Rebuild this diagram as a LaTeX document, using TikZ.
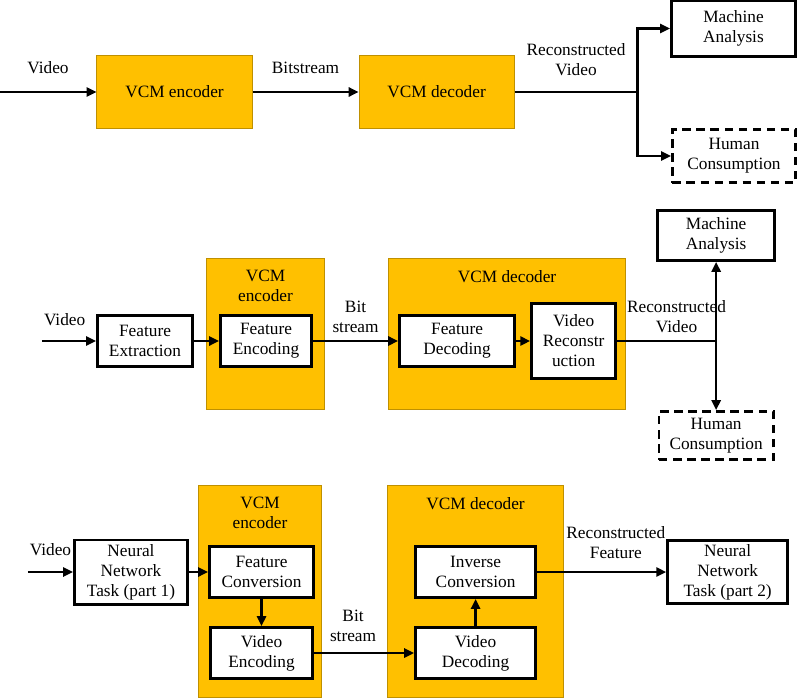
\documentclass[tikz,border=0pt]{standalone}
\usepackage{fontspec}
\setmainfont{Liberation Serif}
\usepackage{xcolor}
\usepackage{tikz}
\usetikzlibrary{positioning, arrows.meta, calc}

\definecolor{vcmgold}{HTML}{FFC000}
\definecolor{vcmedge}{HTML}{BF9000}

\begin{document}
\begin{tikzpicture}[
        x=0.025cm, y=-0.025cm,
        font=\fontsize{12.3}{14.2}\selectfont,
        vcmbox/.style={draw=vcmedge, fill=vcmgold, line width=0.7pt, rectangle, align=center, inner sep=0pt},
        block/.style={draw, rectangle, line width=2pt, fill=white, align=center, inner sep=1pt, bh=1.35cm},
        bw/.style={minimum width=#1-2pt},
        bh/.style={minimum height=#1-2pt},
        humanbox/.style={block, dash pattern=on 6pt off 4pt},
        bgtitle/.style={inner sep=0pt, align=center},
        lbl/.style={inner sep=1pt, align=center},
        arrow/.style={-{Triangle[length=7pt, width=6.5pt]}, line width=1.6pt},
        plain/.style={line width=1.6pt}
      ]
      \useasboundingbox (0,0) rectangle (800,698);

      % first row
      \node[vcmbox, minimum width=3.875cm, minimum height=1.825cm] (enc1) at (174.5,92) {VCM encoder};
      \node[vcmbox, minimum width=3.875cm, minimum height=1.825cm, right=2.65cm of enc1] (dec1) {VCM decoder};
      \coordinate[left=2.425cm of enc1] (in1);
      \coordinate[right=3.075cm of dec1] (j1);
      \node[block, bw=3.175cm, bh=1.45cm] (ma1) at (733.5,28.5) {Machine\\Analysis};
      \node[humanbox, bw=3.15cm, bh=1.4cm] (hc1) at (734,156) {Human\\Consumption};

      \draw[arrow] (in1) -- node[lbl, above=11pt] (lv1) {Video} (enc1);
      \draw[arrow] (enc1) -- node[lbl, above=11pt] (lb1) {Bitstream} (dec1);
      \draw[plain] (dec1) -- node[lbl, above=9.5pt] (lr1) {Reconstructed\\Video} (j1);
      \draw[arrow] (j1) |- (ma1);
      \draw[arrow] (j1) |- (hc1);

      % second row
      \node[vcmbox, minimum width=2.925cm, minimum height=3.75cm] (enc2bg) at (265.5,334) {};
      \node[bgtitle, below=8pt of enc2bg.north] (enc2t) {VCM\\encoder};
      \node[vcmbox, minimum width=5.9cm, minimum height=3.75cm] (dec2bg) at (507,334) {};
      \node[bgtitle, below=8.5pt of dec2bg.north] (dec2t) {VCM decoder};

      \node[block, bw=2.45cm] (fext) at (145,341) {Feature\\Extraction};
      \node[block, bw=2.35cm, right=0.625cm of fext] (fenc) {Feature\\Encoding};
      \node[block, bw=2.95cm, right=2.125cm of fenc] (fdec) {Feature\\Decoding};
      \node[block, bw=2.175cm, bh=1.95cm, right=0.35cm of fdec] (vrec) {Video\\Reconstr\\uction};
      \coordinate[left=1.35cm of fext] (in2);
      \coordinate[right=2.475cm of vrec] (j2);
      \node[block, bw=3cm, bh=1.325cm, above=1.975cm of j2] (ma2) {Machine\\Analysis};
      \node[humanbox, bw=2.925cm, bh=1.275cm, below=1.725cm of j2] (hc2) {Human\\Consumption};

      \draw[arrow] (in2) -- node[lbl, above=9pt, pos=0.42] (lv2) {Video} (fext);
      \draw[arrow] (fext) -- (fenc);
      \draw[arrow] (fenc) -- node[lbl, above=4pt] (lb2) {Bit\\stream} (fdec);
      \draw[arrow] (fdec) -- (vrec);
      \draw[plain] (vrec) -- node[lbl, above=4pt, pos=0.6] (lr2) {Reconstructed\\Video} (j2);
      \draw[arrow] (j2) -- (ma2);
      \draw[arrow] (j2) -- (hc2);

      % third row
      \node[vcmbox, minimum width=3.05cm, minimum height=5.275cm] (enc3bg) at (260,591.5) {};
      \node[bgtitle, below=8pt of enc3bg.north] (enc3t) {VCM\\encoder};
      \node[vcmbox, minimum width=4.375cm, minimum height=5.275cm] (dec3bg) at (475.5,591.5) {};
      \node[bgtitle, below=8pt of dec3bg.north] (dec3t) {VCM decoder};

      \node[block, bw=2.9cm, bh=1.675cm] (nn1) at (131,572) {Neural\\Network\\Task (part 1)};
      \node[block, bw=2.675cm, right=0.475cm of nn1] (fconv) {Feature\\Conversion};
      \node[block, bw=2.625cm, below=0.675cm of fconv] (venc) {Video\\Encoding};
      \node[block, bw=3.075cm, right=2.5cm of venc] (vdec) {Video\\Decoding};
      \node[block, bw=3.075cm, above=0.675cm of vdec] (iconv) {Inverse\\Conversion};
      \node[block, bw=3.075cm, bh=1.65cm, right=3.225cm of iconv] (nn2) {Neural\\Network\\Task (part 2)};
      \coordinate[left=1.125cm of nn1] (in3);

      \draw[arrow] (in3) -- node[lbl, above=10pt] (lv3) {Video} (nn1);
      \draw[arrow] (nn1) -- (fconv);
      \draw[arrow] (fconv) -- (venc);
      \draw[arrow] (venc) -- node[lbl, above=6pt, pos=0.39] (lb3) {Bit\\stream} (vdec);
      \draw[arrow] (vdec) -- (iconv);
      \draw[arrow] (iconv) -- node[lbl, above=8pt, pos=0.61] (lr3) {Reconstructed\\Feature} (nn2);

\end{tikzpicture}
\end{document}
